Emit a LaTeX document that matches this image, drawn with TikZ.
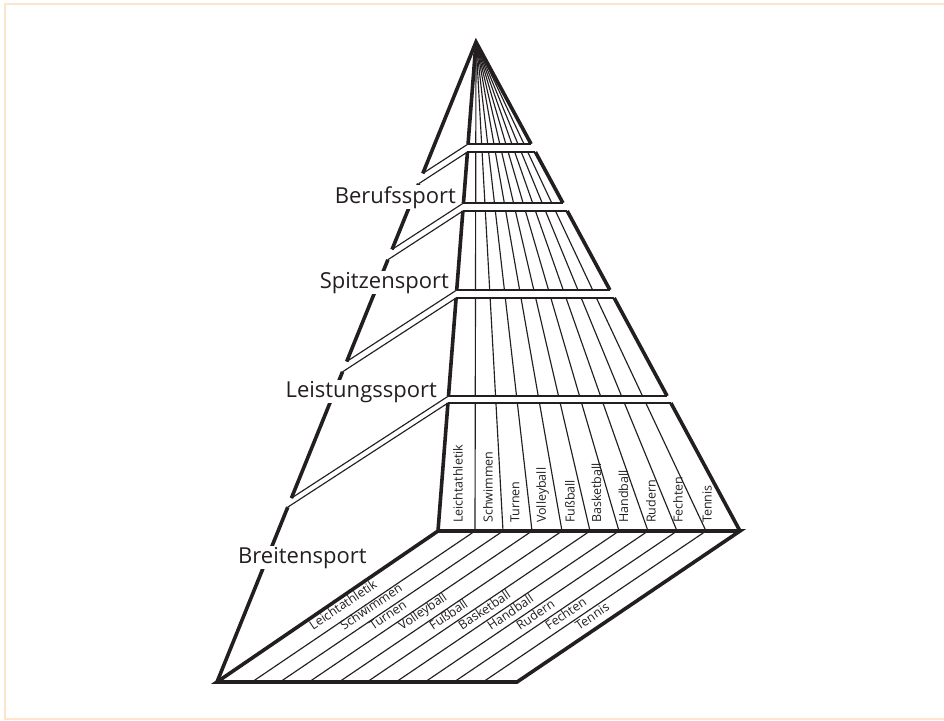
\documentclass[tikz,border=0pt]{standalone}
\usepackage{fontspec}
\setmainfont{Open Sans}
\usetikzlibrary{calc}
\definecolor{ink}{HTML}{231F20}
\definecolor{paper}{HTML}{FBE6CC}

\begin{document}
\begin{tikzpicture}[x=1pt, y=-1pt, line join=miter,
  edge/.style={ink, line width=3.6pt},
  rim/.style={ink, line width=1.9pt},
  fine/.style={ink, line width=1.15pt},
  level/.style={anchor=base east, fill=white, inner sep=1pt, text=ink, font=\fontsize{22}{24}\selectfont},
  sport/.style={inner sep=0pt, text=ink, font=\fontsize{12.5}{13}\selectfont}]
  \useasboundingbox (0,0) rectangle (944,720);
  \draw[paper, line width=2.6pt] (5,4) rectangle (960,719);

  % corners of the pyramid
  \coordinate (apex) at (476,42);
  \coordinate (fl) at (438,531);
  \coordinate (fr) at (740,531);
  \coordinate (bl) at (217,682);
  \coordinate (br) at (517,682);

  % floor
  \foreach \xb in {475,503,532,562,590,619,648,677,706}
    \draw[fine] (\xb,531) -- ++(-223,151);
  \draw[edge] (fl) -- (bl) -- (br) -- (fr) -- cycle;

  % top triangle
  \coordinate (L0) at ($(apex)!{102/489}!(fl)$);
  \coordinate (R0) at ($(apex)!{102/489}!(fr)$);
  \coordinate (O0) at ($(L0)+({-0.4437*102},{0.2884*102})$);
  \foreach \xb in {475,503,532,562,590,619,648,677,706}
    \draw[fine] ($(\xb,531)!{387/489}!(apex)$) -- (apex);
  \draw[rim] (L0) -- (R0);
  \draw[edge] (L0) -- (apex);
  \draw[edge] (O0) -- (apex) -- (R0);

  % the four bands
  \foreach \yt/\yb [count=\i] in {152/203, 211/290, 298/396, 403/531} {
    \coordinate (Lt\i) at ($(apex)!{(\yt-42)/489}!(fl)$);
    \coordinate (Rt\i) at ($(apex)!{(\yt-42)/489}!(fr)$);
    \coordinate (Lb\i) at ($(apex)!{(\yb-42)/489}!(fl)$);
    \coordinate (Rb\i) at ($(apex)!{(\yb-42)/489}!(fr)$);
    \coordinate (Ot\i) at ($(Lt\i)+({-0.4437*(\yt-42)},{0.2884*(\yt-42)})$);
    \coordinate (Ob\i) at ($(Lb\i)+({-0.4437*(\yb-42)},{0.2884*(\yb-42)})$);
    \foreach \xb in {475,503,532,562,590,619,648,677,706}
      \draw[fine] ($(\xb,531)!{(531-\yt)/489}!(apex)$) -- ($(\xb,531)!{(531-\yb)/489}!(apex)$);
    \draw[rim] (Lt\i) -- (Rt\i) (Lb\i) -- (Rb\i);
    \draw[edge] (Lt\i) -- (Lb\i) (Rt\i) -- (Rb\i);
  }
  \draw[edge] (Ot1) -- (Ob1) (Ot2) -- (Ob2) (Ot3) -- (Ob3) (Ot4) -- (bl);

  % level names
  \node[level] (beruf) at (457,203) {Berufssport};
  \node[level] (spitze) at (450,288) {Spitzensport};
  \node[level] (leistung) at (438,397) {Leistungssport};
  \node[level, anchor=base west] (breite) at (237,563) {Breitensport};

  % side cuts
  \draw[fine] (L0) -- (O0);
  \foreach \i in {1,2,3,4}
    \draw[fine] (Lt\i) -- (Ot\i);
  \foreach \i in {1,2,3}
    \draw[fine] (Lb\i) -- (Ob\i);

  % sports on the front face
  \foreach \name/\x [count=\i] in {Leichtathletik/458, Schwimmen/488, Turnen/515, Volleyball/542.5, Fußball/570, Basketball/596.5, Handball/623.5, Rudern/651, Fechten/678, Tennis/707}
    \node[sport, rotate=90, anchor=west] (col\i) at (\x,523) {\name};

  % sports on the floor
  \foreach \name/\x [count=\i] in {Leichtathletik/313, Schwimmen/344, Turnen/373, Volleyball/402, Fußball/433, Basketball/462, Handball/491, Rudern/520, Fechten/549, Tennis/579}
    \node[sport, rotate=34.1, anchor=base west] (strip\i) at (\x,630.5) {\name};
\end{tikzpicture}
\end{document}
